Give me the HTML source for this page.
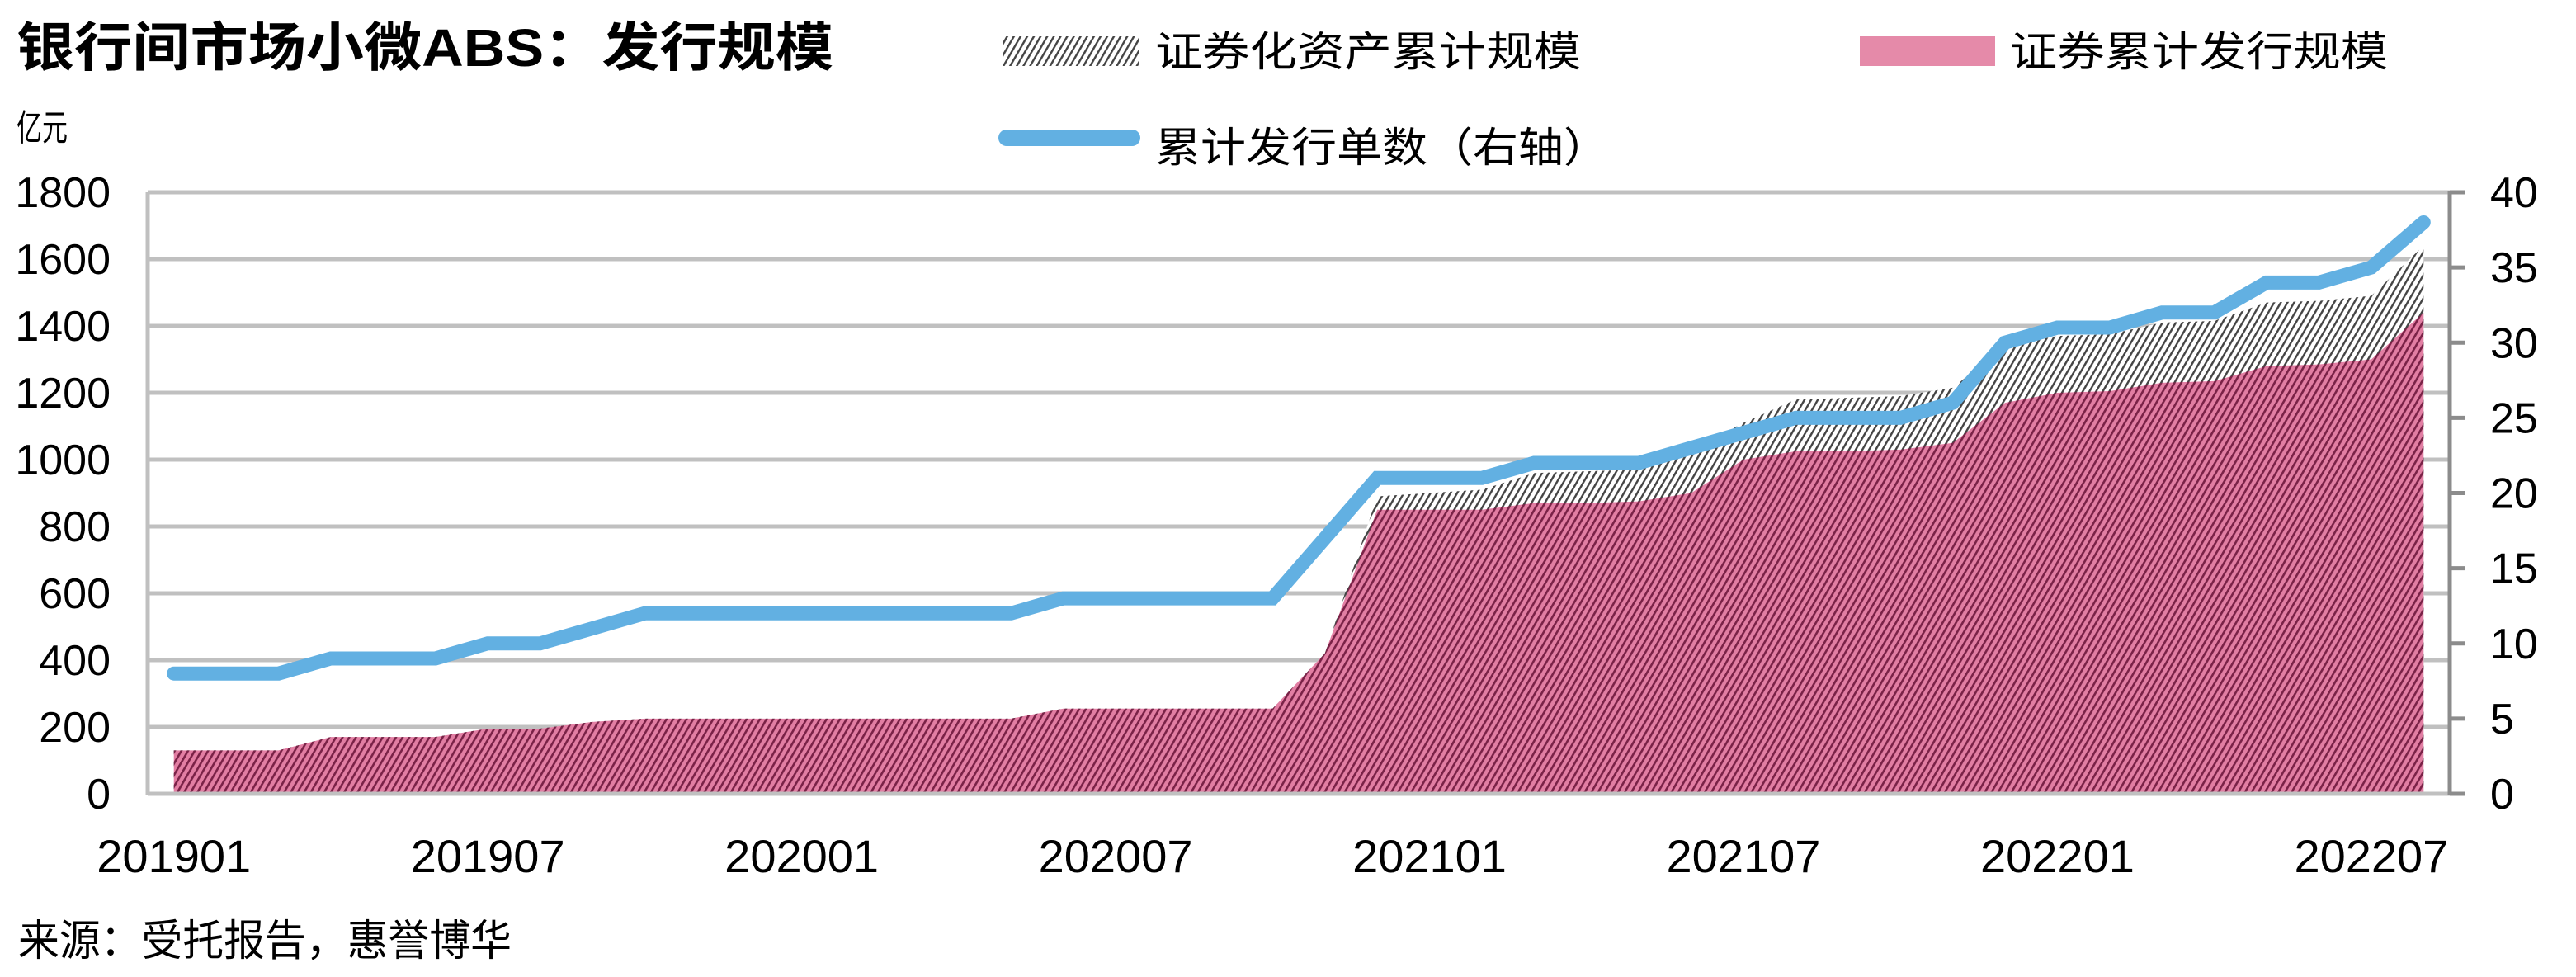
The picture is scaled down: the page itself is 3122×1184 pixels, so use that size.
<!DOCTYPE html>
<html><head><meta charset="utf-8">
<style>
html,body{margin:0;padding:0;background:#fff;}
svg{display:block;}
text{font-family:"Liberation Sans","Noto Sans CJK SC",sans-serif;fill:#000;}
</style></head>
<body>
<svg id="chart" width="3122" height="1184" viewBox="0 0 3122 1184" xmlns="http://www.w3.org/2000/svg">
<defs>
<pattern id="pinkHatch" patternUnits="userSpaceOnUse" width="7" height="7" patternTransform="rotate(30)">
<rect width="7" height="7" fill="#e27ea3"/>
<rect width="2.6" height="7" fill="#7a2247"/>
</pattern>
<pattern id="grayHatch" patternUnits="userSpaceOnUse" width="7" height="7" patternTransform="rotate(30)">
<rect width="7" height="7" fill="#fff"/>
<rect width="2.4" height="7" fill="#444"/>
</pattern>
</defs>
<text x="20" y="80" font-size="64" font-weight="bold" textLength="990" lengthAdjust="spacingAndGlyphs">银行间市场小微ABS：发行规模</text>
<g>
<rect x="1216" y="44" width="164" height="36" fill="url(#grayHatch)"/>
<text x="1400" y="80" font-size="50" textLength="516" lengthAdjust="spacingAndGlyphs">证券化资产累计规模</text>
<rect x="2254" y="44" width="164" height="36" fill="#e58aa9"/>
<text x="2436" y="80" font-size="50" textLength="458" lengthAdjust="spacingAndGlyphs">证券累计发行规模</text>
<line x1="1220" y1="167" x2="1372" y2="167" stroke="#62b0e2" stroke-width="20" stroke-linecap="round"/>
<text x="1400" y="196" font-size="50" textLength="550" lengthAdjust="spacingAndGlyphs">累计发行单数（右轴）</text>
</g>
<text x="20" y="170" font-size="44" textLength="62" lengthAdjust="spacingAndGlyphs">亿元</text>
<g id="grid"></g>
<g id="areas"></g>
<g id="axes"></g>
<g id="lineG"></g>
<g id="labels"></g>
<text x="22" y="1158" font-size="52" textLength="598" lengthAdjust="spacingAndGlyphs">来源：受托报告，惠誉博华</text>
</svg>
<script>
const months = [];
for (let y = 2019; y <= 2022; y++) for (let m = 1; m <= 12; m++) { if (y === 2022 && m > 8) break; months.push(String(y) + String(m).padStart(2, '0')); }
const issuance = [130,130,130,170,170,170,195,195,215,225,225,225,225,225,225,225,225,255,255,255,255,255,420,850,850,850,870,870,875,900,1000,1025,1025,1030,1050,1170,1200,1205,1230,1235,1280,1285,1300,1440];
const assets = [130,130,130,170,170,170,195,195,215,225,225,225,225,225,225,225,225,255,255,255,255,255,420,890,900,910,960,965,970,1030,1110,1180,1185,1190,1215,1340,1370,1375,1410,1415,1470,1475,1490,1640];
const counts = [8,8,8,9,9,9,10,10,11,12,12,12,12,12,12,12,12,13,13,13,13,13,17,21,21,21,22,22,22,23,24,25,25,25,26,30,31,31,32,32,34,34,35,38];
const leftTicks = [0,200,400,600,800,1000,1200,1400,1600,1800];
const rightTicks = [0,5,10,15,20,25,30,35,40];
const xTickLabels = ['201901','201907','202001','202007','202101','202107','202201','202207'];

const NS = 'http://www.w3.org/2000/svg';
const L = 179, R = 2969, T = 233, B = 962;
const n = months.length;
const bw = (R - L) / n;
const xPos = i => L + (i + 0.5) * bw;
const yL = v => B - (v / 1800) * (B - T);
const yR = v => B - (v / 40) * (B - T);
function mk(tag, attrs, parent) { const e = document.createElementNS(NS, tag); for (const k in attrs) e.setAttribute(k, attrs[k]); parent.appendChild(e); return e; }

const grid = document.getElementById('grid');
leftTicks.forEach(v => {
  const g = mk('line', {x1: L, x2: R, y1: yL(v), y2: yL(v), stroke: '#c0c0c0', 'stroke-width': 5}, grid);
  
  
});

const areas = document.getElementById('areas');
function areaPath(vals) {
  let d = 'M' + xPos(0) + ',' + B;
  vals.forEach((v, i) => { d += ' L' + xPos(i) + ',' + yL(v); });
  d += ' L' + xPos(n - 1) + ',' + B + ' Z';
  return d;
}
const a1 = mk('path', {d: areaPath(assets), fill: 'url(#grayHatch)'}, areas);


const a2 = mk('path', {d: areaPath(issuance), fill: 'url(#pinkHatch)'}, areas);



const axes = document.getElementById('axes');
const la = mk('line', {x1: L, x2: L, y1: T, y2: B + 2, stroke: '#c0c0c0', 'stroke-width': 5}, axes);


const ba = mk('line', {x1: L, x2: R, y1: B, y2: B, stroke: '#c0c0c0', 'stroke-width': 5}, axes);


const ra = mk('line', {x1: R, x2: R, y1: T - 2, y2: B + 2, stroke: '#8c8c8c', 'stroke-width': 5}, axes);


rightTicks.forEach(v => {
  const t = mk('line', {x1: R, x2: R + 18, y1: yR(v), y2: yR(v), stroke: '#8c8c8c', 'stroke-width': 5}, axes);
  
  
});

const lineG = document.getElementById('lineG');
const pts = counts.map((v, i) => xPos(i) + ',' + yR(v)).join(' ');
const pl = mk('polyline', {points: pts, fill: 'none', stroke: '#62b0e2', 'stroke-width': 17, 'stroke-linejoin': 'miter', 'stroke-linecap': 'round'}, lineG);



const labels = document.getElementById('labels');
leftTicks.forEach(v => {
  const t = mk('text', {x: 134, y: yL(v) + 18, 'font-size': 52, 'text-anchor': 'end'}, labels);
  t.textContent = v;
  
  
});
rightTicks.forEach(v => {
  const t = mk('text', {x: 3018, y: yR(v) + 18, 'font-size': 52}, labels);
  t.textContent = v;
  
  
});
xTickLabels.forEach(lab => {
  const i = months.indexOf(lab);
  const t = mk('text', {x: xPos(i), y: 1057, 'font-size': 56, 'text-anchor': 'middle'}, labels);
  t.textContent = lab;
  
  
});
</script>
</body></html>
